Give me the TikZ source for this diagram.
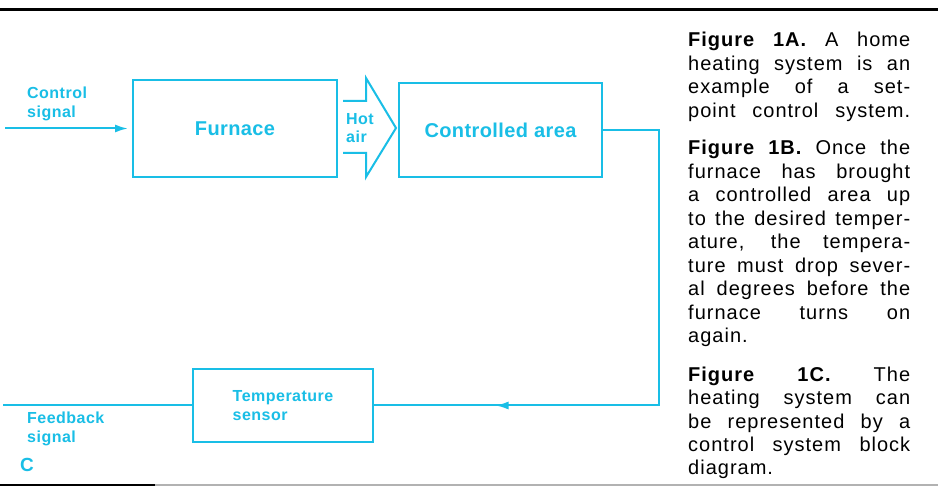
\documentclass[tikz,border=0pt]{standalone}
\usepackage{fontspec}
\setmainfont{Liberation Sans}
\usetikzlibrary{arrows.meta,decorations.markings}

\definecolor{cyanink}{RGB}{25,190,230}

\tikzset{
  blockbox/.style={draw=cyanink, line width=2pt, inner sep=0pt,
    text=cyanink, font=\bfseries\fontsize{20}{24}\selectfont\addfontfeatures{LetterSpace=2}},
  smalllabel/.style={text=cyanink, inner sep=0pt, align=left,
    font=\bfseries\fontsize{16}{18.5}\selectfont\addfontfeatures{LetterSpace=3}},
  wire/.style={draw=cyanink, line width=2pt},
  txtline/.style={inner sep=0pt, anchor=base west,
    font=\fontsize{20}{23}\selectfont\addfontfeatures{LetterSpace=5}}
}

\begin{document}
\begin{tikzpicture}[x=1pt,y=-1pt]

% ============================================================
% 参数区
% ============================================================

\def\TxtLeft{688}    % 右侧文字左边界
\def\TxtWidth{222}   % 右侧文字宽度

\useasboundingbox (0,0) rectangle (938,486);
\fill[white] (0,0) rectangle (938,486);

% ============================================================
% 上下边线
% ============================================================

\draw[line width=2.4pt] (0,9.5) -- (938,9.5);
\draw[line width=2pt] (0,485) -- (155,485);
\draw[line width=1.2pt, black!30] (155,485) -- (938,485);

% ============================================================
% 方框
% ============================================================

\node[blockbox, minimum width=204pt, minimum height=97pt] (furnace) at (235,128.5) {Furnace};
\node[blockbox, minimum width=203pt, minimum height=94pt] (ctrl) at (500.5,130) {Controlled area};
\node[blockbox, minimum width=180pt, minimum height=73pt] (sensor) at (283,405.5) {};
\node[smalllabel] (sensorlbl) at (sensor.center) {Temperature\\sensor};

% ============================================================
% 热空气箭头
% ============================================================

\draw[wire, line join=miter]
  (343,101) -- (366,101) -- (366,78) -- (396,128)
  -- (366,177) -- (366,153) -- (343,153);
\node[smalllabel, anchor=west] (hotair) at (346,128) {Hot\\air};

% ============================================================
% 信号线
% ============================================================

\coordinate (cin) at (5,128.5);
\coordinate (ne) at (659,130);
\coordinate (se) at (659,405.5);
\coordinate (fbout) at (3,405.5);

\draw[wire, -{Latex[length=13pt,width=8pt]}, shorten >=4pt] (cin) -- (furnace.west);
\draw[wire, postaction={decorate},
  decoration={markings, mark=at position 495pt with {\arrow{Latex[length=13pt,width=8pt]}}}]
  (ctrl.east) -- (ne) -- (se) -- (sensor.east);
\draw[wire] (sensor.west) -- (fbout);

\node[smalllabel, anchor=north west] (cinlbl) at (27,87) {Control\\signal};
\node[smalllabel, anchor=north west] (fblbl) at (27,412) {Feedback\\signal};
\node[text=cyanink, font=\bfseries\fontsize{19}{22}\selectfont, anchor=west, inner sep=0pt]
  (figc) at (20,465) {C};

% ============================================================
% 右侧说明文字
% ============================================================

\foreach \y/\t [count=\i] in {
  47/{\bfseries Figure 1A.} A home,
  70.5/heating system is an,
  94/example of a set-,
  117.5/point control system.,
  155/{\bfseries Figure 1B.} Once the,
  178.5/furnace has brought,
  202/a controlled area up,
  225.5/to the desired temper-,
  249/{ature, the tempera-},
  272.5/ture must drop sever-,
  296/al degrees before the,
  319.5/furnace turns on,
  382/{\bfseries Figure 1C.} The,
  405/heating system can,
  428.5/be represented by a,
  452/control system block} {
  \node[txtline] (ln\i) at (\TxtLeft,\y) {\makebox[\TxtWidth pt][s]{\t}};
}
\node[txtline] (lnagain) at (\TxtLeft,343) {again.};
\node[txtline] (lndiag) at (\TxtLeft,475) {diagram.};

\end{tikzpicture}
\end{document}
